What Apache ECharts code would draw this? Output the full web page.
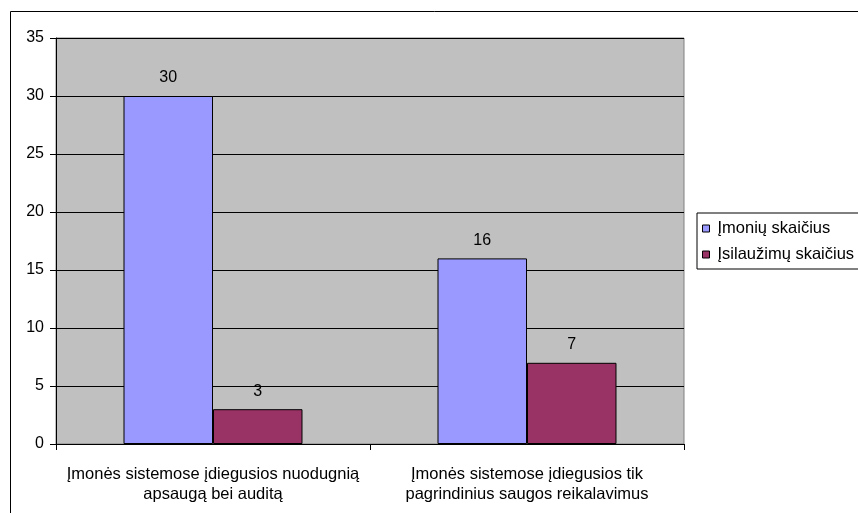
<!DOCTYPE html>
<html>
<head>
<meta charset="utf-8">
<script src="https://cdn.jsdelivr.net/npm/echarts@6/dist/echarts.min.js"></script>
<style>
  html, body { margin: 0; padding: 0; background: #fff; }
  #chart { width: 858px; height: 513px; }
</style>
</head>
<body>
<div id="chart"></div>
<script>
// data
var categories = [
    'Įmonės sistemose įdiegusios nuodugnią\napsaugą bei auditą',
    'Įmonės sistemose įdiegusios tik\npagrindinius saugos reikalavimus'
];
var seriesNames = ['Įmonių skaičius', 'Įsilaužimų skaičius'];
var imoniu = [30, 16];
var isilauzimu = [3, 7];
var seriesColors = ['#9999FF', '#993366'];

var chart = echarts.init(document.getElementById('chart'));

var font = 'Liberation Sans, Arial, sans-serif';

function makeBar(name, data, color) {
    return {
        name: name,
        type: 'bar',
        data: data,
        barGap: '0%',
        barCategoryGap: '43%',
        itemStyle: { color: color, borderColor: '#000', borderWidth: 1 },
        label: {
            show: true,
            position: 'top',
            distance: 10,
            color: '#000',
            fontFamily: font,
            fontSize: 16
        },
        emphasis: { disabled: true }
    };
}

chart.setOption({
    animation: false,
    textStyle: { fontFamily: font },
    graphic: [{
        type: 'rect',
        shape: { x: 10.5, y: 11.5, width: 900, height: 600 },
        style: { fill: 'none', stroke: '#000', lineWidth: 1 },
        silent: true
    }],
    grid: {
        left: 56, top: 38, right: 174, bottom: 69,
        show: true,
        backgroundColor: '#C0C0C0',
        borderColor: '#808080',
        borderWidth: 1
    },
    legend: {
        orient: 'vertical',
        left: 697,
        top: 213,
        data: seriesNames,
        borderColor: '#000',
        borderWidth: 1,
        padding: [6, 6, 5, 5],
        itemGap: 7,
        itemWidth: 7,
        itemHeight: 7,
        icon: 'rect',
        itemStyle: { borderColor: '#000', borderWidth: 1 },
        textStyle: { color: '#000', fontSize: 16.5, fontFamily: font, lineHeight: 19, padding: [0, 0, 0, 3] }
    },
    xAxis: {
        type: 'category',
        data: categories,
        axisLine: { lineStyle: { color: '#000' } },
        axisTick: { show: true, alignWithLabel: false, length: 6, lineStyle: { color: '#000' } },
        axisLabel: {
            color: '#000',
            fontSize: 16.5,
            fontFamily: font,
            lineHeight: 20,
            margin: 20,
            interval: 0
        }
    },
    yAxis: {
        type: 'value',
        min: 0,
        max: 35,
        interval: 5,
        axisLine: { show: true, lineStyle: { color: '#000' } },
        axisTick: { show: true, length: 6, lineStyle: { color: '#000' } },
        axisLabel: { color: '#000', fontSize: 16, fontFamily: font, margin: 12 },
        splitLine: { show: true, lineStyle: { color: '#000', width: 1 } }
    },
    series: [
        makeBar(seriesNames[0], imoniu, seriesColors[0]),
        makeBar(seriesNames[1], isilauzimu, seriesColors[1])
    ]
});
</script>
</body>
</html>
